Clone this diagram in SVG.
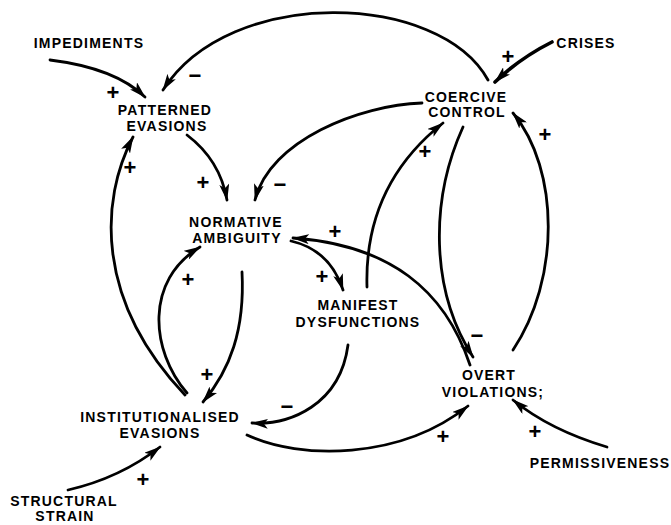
<svg xmlns="http://www.w3.org/2000/svg" width="671" height="525" viewBox="0 0 671 525">
<defs>
<style>
.n{font-family:"Liberation Sans",Arial,sans-serif;font-weight:bold;font-size:14px;letter-spacing:1.2px;fill:#000;text-anchor:middle}
.s{font-family:"Liberation Sans",Arial,sans-serif;font-weight:bold;font-size:22px;fill:#000;text-anchor:middle}
.c{fill:none;stroke:#000;stroke-width:2.8;stroke-linecap:round;marker-end:url(#arr)}
</style>
<marker id="arr" markerUnits="userSpaceOnUse" markerWidth="17" markerHeight="10" refX="16" refY="5" orient="auto" viewBox="0 0 17 10"><path d="M0,0 L17,5 L0,10 L4,5 z" fill="#000"/></marker>
</defs>
<rect width="671" height="525" fill="#fff"/>
<g id="connectors">
<path class="c" d="M50,60 Q115,68 145,97"/>
<path class="c" d="M488,80 C440,-8 230,-15 163,90"/>
<path class="c" d="M187,135 Q220,160 227,200"/>
<path class="c" d="M422,103 C360,105 270,140 255,200"/>
<path class="c" d="M185,395 C95,300 100,200 133,137"/>
<path class="c" d="M187,393 C150,350 145,280 200,247"/>
<path class="c" d="M242,272 C245,330 230,370 203,402"/>
<path class="c" d="M291,241 Q330,250 343,290"/>
<path class="c" d="M470,365 C445,290 390,245 293,238"/>
<path class="c" d="M463,127 C430,200 430,290 473,357"/>
<path class="c" d="M513,350 C560,280 560,170 513,113"/>
<path class="c" d="M367,287 C365,220 390,165 443,123"/>
<path class="c" d="M348,345 C340,405 290,425 252,423"/>
<path class="c" d="M247,435 C300,460 400,460 468,406"/>
<path class="c" d="M607,447 Q550,430 513,400"/>
<path class="c" style="stroke-width:3.6" d="M552,42 Q520,58 495,82"/>
<path class="c" d="M68,490 Q120,478 160,447"/>
</g>
<g id="signs">
<text class="s" x="113" y="100">+</text>
<text class="s" x="203" y="190">+</text>
<text class="s" x="130" y="175">+</text>
<text class="s" x="188" y="287">+</text>
<text class="s" x="207" y="382">+</text>
<text class="s" x="322" y="284">+</text>
<text class="s" x="335" y="239">+</text>
<text class="s" x="425" y="159">+</text>
<text class="s" x="545" y="142">+</text>
<text class="s" x="508" y="64">+</text>
<text class="s" x="443" y="444">+</text>
<text class="s" x="535" y="439">+</text>
<text class="s" x="143" y="487">+</text>
<text class="s" x="195" y="83">−</text>
<text class="s" x="280" y="192">−</text>
<text class="s" x="477" y="343">−</text>
<text class="s" x="287" y="414">−</text>
</g>
<g id="impediments"><text class="n" x="89" y="48">IMPEDIMENTS</text></g>
<g id="patterned-evasions"><text class="n" x="165" y="115">PATTERNED</text><text class="n" x="167" y="131">EVASIONS</text></g>
<g id="crises"><text class="n" x="586" y="48">CRISES</text></g>
<g id="coercive-control"><text class="n" x="466" y="102">COERCIVE</text><text class="n" x="467" y="117">CONTROL</text></g>
<g id="normative-ambiguity"><text class="n" x="236" y="227">NORMATIVE</text><text class="n" x="237" y="243">AMBIGUITY</text></g>
<g id="manifest-dysfunctions"><text class="n" x="358" y="310">MANIFEST</text><text class="n" x="358" y="327">DYSFUNCTIONS</text></g>
<g id="overt-violations"><text class="n" x="489" y="380">OVERT</text><text class="n" x="493" y="397">VIOLATIONS;</text></g>
<g id="institutionalised-evasions"><text class="n" x="160" y="422">INSTITUTIONALISED</text><text class="n" x="160" y="438">EVASIONS</text></g>
<g id="structural-strain"><text class="n" x="64" y="506">STRUCTURAL</text><text class="n" x="65" y="521">STRAIN</text></g>
<g id="permissiveness"><text class="n" x="600" y="468">PERMISSIVENESS</text></g>
</svg>
